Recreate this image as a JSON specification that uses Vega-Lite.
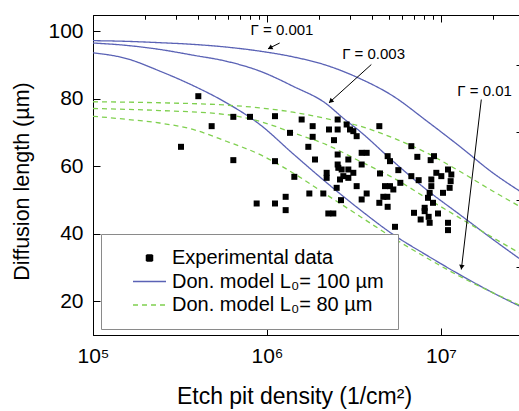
{
  "$schema": "https://vega.github.io/schema/vega-lite/v6.json",
  "width": 427,
  "height": 320,
  "autosize": {"type": "none"},
  "padding": {"left": 93, "top": 15, "right": 0, "bottom": 76},
  "background": "white",
  "config": {
    "view": {"stroke": "black", "strokeWidth": 1},
    "font": "Liberation Sans",
    "axis": {"domainColor": "black", "tickColor": "black", "labelColor": "black", "titleColor": "black", "grid": false, "labelFont": "Liberation Sans", "titleFont": "Liberation Sans", "labelFontSize": 21, "titleFontSize": 21, "titleFontWeight": "normal", "tickWidth": 1, "domainWidth": 1}
  },
  "datasets": {
    "curves": [
      {"curve": "b1", "series": "Don. model L₀= 100 µm", "x": 100000, "y": 97.2},
      {"curve": "b1", "series": "Don. model L₀= 100 µm", "x": 155500, "y": 97.0},
      {"curve": "b1", "series": "Don. model L₀= 100 µm", "x": 241600, "y": 96.6},
      {"curve": "b1", "series": "Don. model L₀= 100 µm", "x": 375500, "y": 96.1},
      {"curve": "b1", "series": "Don. model L₀= 100 µm", "x": 583800, "y": 95.3},
      {"curve": "b1", "series": "Don. model L₀= 100 µm", "x": 907600, "y": 94.1},
      {"curve": "b1", "series": "Don. model L₀= 100 µm", "x": 1410700, "y": 92.4},
      {"curve": "b1", "series": "Don. model L₀= 100 µm", "x": 2193000, "y": 89.9},
      {"curve": "b1", "series": "Don. model L₀= 100 µm", "x": 3408000, "y": 86.0},
      {"curve": "b1", "series": "Don. model L₀= 100 µm", "x": 5298000, "y": 80.8},
      {"curve": "b1", "series": "Don. model L₀= 100 µm", "x": 8236000, "y": 73.5},
      {"curve": "b1", "series": "Don. model L₀= 100 µm", "x": 12800000, "y": 65.9},
      {"curve": "b1", "series": "Don. model L₀= 100 µm", "x": 19900000, "y": 58.0},
      {"curve": "b1", "series": "Don. model L₀= 100 µm", "x": 29000000, "y": 52.3},
      {"curve": "b3", "series": "Don. model L₀= 100 µm", "x": 100000, "y": 96.5},
      {"curve": "b3", "series": "Don. model L₀= 100 µm", "x": 155500, "y": 95.8},
      {"curve": "b3", "series": "Don. model L₀= 100 µm", "x": 241600, "y": 94.6},
      {"curve": "b3", "series": "Don. model L₀= 100 µm", "x": 375500, "y": 92.9},
      {"curve": "b3", "series": "Don. model L₀= 100 µm", "x": 583800, "y": 91.1},
      {"curve": "b3", "series": "Don. model L₀= 100 µm", "x": 907600, "y": 88.2},
      {"curve": "b3", "series": "Don. model L₀= 100 µm", "x": 1410700, "y": 83.7},
      {"curve": "b3", "series": "Don. model L₀= 100 µm", "x": 2193000, "y": 78.5},
      {"curve": "b3", "series": "Don. model L₀= 100 µm", "x": 2734000, "y": 74.3},
      {"curve": "b3", "series": "Don. model L₀= 100 µm", "x": 3408000, "y": 70.4},
      {"curve": "b3", "series": "Don. model L₀= 100 µm", "x": 5298000, "y": 61.5},
      {"curve": "b3", "series": "Don. model L₀= 100 µm", "x": 8236000, "y": 53.1},
      {"curve": "b3", "series": "Don. model L₀= 100 µm", "x": 12800000, "y": 45.7},
      {"curve": "b3", "series": "Don. model L₀= 100 µm", "x": 19900000, "y": 38.3},
      {"curve": "b3", "series": "Don. model L₀= 100 µm", "x": 29000000, "y": 32.2},
      {"curve": "b10", "series": "Don. model L₀= 100 µm", "x": 100000, "y": 93.6},
      {"curve": "b10", "series": "Don. model L₀= 100 µm", "x": 155500, "y": 91.9},
      {"curve": "b10", "series": "Don. model L₀= 100 µm", "x": 241600, "y": 88.2},
      {"curve": "b10", "series": "Don. model L₀= 100 µm", "x": 375500, "y": 83.9},
      {"curve": "b10", "series": "Don. model L₀= 100 µm", "x": 583800, "y": 78.8},
      {"curve": "b10", "series": "Don. model L₀= 100 µm", "x": 907600, "y": 72.4},
      {"curve": "b10", "series": "Don. model L₀= 100 µm", "x": 1410700, "y": 63.7},
      {"curve": "b10", "series": "Don. model L₀= 100 µm", "x": 2193000, "y": 55.2},
      {"curve": "b10", "series": "Don. model L₀= 100 µm", "x": 3408000, "y": 47.2},
      {"curve": "b10", "series": "Don. model L₀= 100 µm", "x": 5298000, "y": 39.8},
      {"curve": "b10", "series": "Don. model L₀= 100 µm", "x": 8236000, "y": 33.7},
      {"curve": "b10", "series": "Don. model L₀= 100 µm", "x": 12800000, "y": 27.9},
      {"curve": "b10", "series": "Don. model L₀= 100 µm", "x": 19900000, "y": 22.5},
      {"curve": "b10", "series": "Don. model L₀= 100 µm", "x": 29000000, "y": 18.3},
      {"curve": "g1", "series": "Don. model L₀= 80 µm", "x": 100000, "y": 79.1},
      {"curve": "g1", "series": "Don. model L₀= 80 µm", "x": 241600, "y": 78.8},
      {"curve": "g1", "series": "Don. model L₀= 80 µm", "x": 583800, "y": 78.1},
      {"curve": "g1", "series": "Don. model L₀= 80 µm", "x": 907600, "y": 77.3},
      {"curve": "g1", "series": "Don. model L₀= 80 µm", "x": 1410700, "y": 76.0},
      {"curve": "g1", "series": "Don. model L₀= 80 µm", "x": 2193000, "y": 74.1},
      {"curve": "g1", "series": "Don. model L₀= 80 µm", "x": 3408000, "y": 71.9},
      {"curve": "g1", "series": "Don. model L₀= 80 µm", "x": 5298000, "y": 68.4},
      {"curve": "g1", "series": "Don. model L₀= 80 µm", "x": 8236000, "y": 64.0},
      {"curve": "g1", "series": "Don. model L₀= 80 µm", "x": 12800000, "y": 58.5},
      {"curve": "g1", "series": "Don. model L₀= 80 µm", "x": 19900000, "y": 52.6},
      {"curve": "g1", "series": "Don. model L₀= 80 µm", "x": 29000000, "y": 47.8},
      {"curve": "g3", "series": "Don. model L₀= 80 µm", "x": 100000, "y": 77.1},
      {"curve": "g3", "series": "Don. model L₀= 80 µm", "x": 241600, "y": 76.5},
      {"curve": "g3", "series": "Don. model L₀= 80 µm", "x": 583800, "y": 75.3},
      {"curve": "g3", "series": "Don. model L₀= 80 µm", "x": 907600, "y": 73.3},
      {"curve": "g3", "series": "Don. model L₀= 80 µm", "x": 1410700, "y": 69.9},
      {"curve": "g3", "series": "Don. model L₀= 80 µm", "x": 2193000, "y": 66.4},
      {"curve": "g3", "series": "Don. model L₀= 80 µm", "x": 3408000, "y": 61.5},
      {"curve": "g3", "series": "Don. model L₀= 80 µm", "x": 5298000, "y": 56.6},
      {"curve": "g3", "series": "Don. model L₀= 80 µm", "x": 8236000, "y": 50.6},
      {"curve": "g3", "series": "Don. model L₀= 80 µm", "x": 12800000, "y": 44.7},
      {"curve": "g3", "series": "Don. model L₀= 80 µm", "x": 19900000, "y": 38.8},
      {"curve": "g3", "series": "Don. model L₀= 80 µm", "x": 29000000, "y": 34.0},
      {"curve": "g10", "series": "Don. model L₀= 80 µm", "x": 100000, "y": 74.8},
      {"curve": "g10", "series": "Don. model L₀= 80 µm", "x": 155500, "y": 73.9},
      {"curve": "g10", "series": "Don. model L₀= 80 µm", "x": 241600, "y": 72.8},
      {"curve": "g10", "series": "Don. model L₀= 80 µm", "x": 375500, "y": 70.9},
      {"curve": "g10", "series": "Don. model L₀= 80 µm", "x": 583800, "y": 67.4},
      {"curve": "g10", "series": "Don. model L₀= 80 µm", "x": 907600, "y": 63.5},
      {"curve": "g10", "series": "Don. model L₀= 80 µm", "x": 1410700, "y": 58.0},
      {"curve": "g10", "series": "Don. model L₀= 80 µm", "x": 2193000, "y": 51.6},
      {"curve": "g10", "series": "Don. model L₀= 80 µm", "x": 3408000, "y": 45.2},
      {"curve": "g10", "series": "Don. model L₀= 80 µm", "x": 5298000, "y": 38.8},
      {"curve": "g10", "series": "Don. model L₀= 80 µm", "x": 8236000, "y": 32.9},
      {"curve": "g10", "series": "Don. model L₀= 80 µm", "x": 12800000, "y": 27.4},
      {"curve": "g10", "series": "Don. model L₀= 80 µm", "x": 19900000, "y": 22.5},
      {"curve": "g10", "series": "Don. model L₀= 80 µm", "x": 29000000, "y": 18.6}
    ],
    "points": [
      {"x": 320400, "y": 65.75}, {"x": 403000, "y": 80.75}, {"x": 480800, "y": 71.87}, {"x": 640500, "y": 74.63},
      {"x": 640500, "y": 61.8}, {"x": 798500, "y": 74.63}, {"x": 872200, "y": 48.96}, {"x": 1111600, "y": 74.83},
      {"x": 1111600, "y": 61.5}, {"x": 1111600, "y": 48.96}, {"x": 1280200, "y": 50.94}, {"x": 1280200, "y": 46.99},
      {"x": 1355700, "y": 69.89}, {"x": 1435800, "y": 56.86}, {"x": 1582100, "y": 73.84}, {"x": 1728000, "y": 65.75},
      {"x": 1751200, "y": 51.92}, {"x": 1830000, "y": 71.87}, {"x": 1830000, "y": 68.71}, {"x": 1887400, "y": 61.99},
      {"x": 2107400, "y": 51.92}, {"x": 2202300, "y": 58.05}, {"x": 2202300, "y": 56.56}, {"x": 2251600, "y": 46.0},
      {"x": 2405600, "y": 46.0}, {"x": 2271500, "y": 70.88}, {"x": 2547600, "y": 70.88}, {"x": 2547600, "y": 73.84},
      {"x": 2426900, "y": 67.72}, {"x": 2547600, "y": 63.47}, {"x": 2547600, "y": 60.51}, {"x": 2570200, "y": 59.53},
      {"x": 2627500, "y": 56.07}, {"x": 2514100, "y": 53.6}, {"x": 2662600, "y": 49.95}, {"x": 2686000, "y": 59.03},
      {"x": 2934000, "y": 59.03}, {"x": 3134500, "y": 58.05}, {"x": 2746000, "y": 57.06}, {"x": 2934000, "y": 56.56},
      {"x": 2869600, "y": 72.36}, {"x": 2999500, "y": 70.88}, {"x": 3134500, "y": 70.39}, {"x": 3275800, "y": 68.9},
      {"x": 4421700, "y": 71.87}, {"x": 3499900, "y": 63.97}, {"x": 3739400, "y": 63.97}, {"x": 2934000, "y": 61.99},
      {"x": 3499900, "y": 60.51}, {"x": 3275800, "y": 54.1}, {"x": 3739400, "y": 51.92}, {"x": 3499900, "y": 50.15},
      {"x": 4461200, "y": 57.85}, {"x": 4937300, "y": 62.98}, {"x": 5092100, "y": 61.5}, {"x": 5685800, "y": 58.84},
      {"x": 5838000, "y": 55.08}, {"x": 4766000, "y": 54.1}, {"x": 5092100, "y": 54.1}, {"x": 5321600, "y": 53.11},
      {"x": 4662000, "y": 50.94}, {"x": 4915500, "y": 50.94}, {"x": 4421700, "y": 49.16}, {"x": 4937300, "y": 47.98},
      {"x": 5440000, "y": 42.05},
      {"x": 6753000, "y": 65.94}, {"x": 7311000, "y": 62.78}, {"x": 8722000, "y": 61.8}, {"x": 9116000, "y": 62.98},
      {"x": 6753000, "y": 57.06}, {"x": 7441400, "y": 55.87}, {"x": 8799000, "y": 56.07}, {"x": 9401000, "y": 58.05},
      {"x": 10044000, "y": 57.06}, {"x": 10970000, "y": 59.03}, {"x": 11466000, "y": 57.55}, {"x": 11364000, "y": 55.58},
      {"x": 11214000, "y": 53.6}, {"x": 8799000, "y": 54.1}, {"x": 8607000, "y": 52.12}, {"x": 8419500, "y": 50.64},
      {"x": 10268000, "y": 52.12}, {"x": 8995000, "y": 49.16}, {"x": 8056300, "y": 47.68}, {"x": 8056300, "y": 46.69},
      {"x": 6995700, "y": 46.2}, {"x": 7640900, "y": 44.22}, {"x": 8494000, "y": 45.01}, {"x": 8607000, "y": 43.24},
      {"x": 9611000, "y": 46.0}, {"x": 10970000, "y": 43.24}, {"x": 10970000, "y": 41.07}
    ],
    "labels": [
      {"text": "Γ = 0.001", "x": 1220000, "y": 100.5},
      {"text": "Γ = 0.003", "x": 4100000, "y": 93.1},
      {"text": "Γ = 0.01", "x": 17820000, "y": 82.2}
    ],
    "arrows": [
      {"x": 1182600, "y": 96.5, "x2": 1013300, "y2": 94.77},
      {"x": 3977000, "y": 90.13, "x2": 2272000, "y2": 78.78},
      {"x": 17050000, "y": 79.76, "x2": 13090000, "y2": 29.42}
    ],
    "heads": [
      {"x": 1049800, "y": 95.16, "angle": 243},
      {"x": 2339000, "y": 79.37, "angle": 228},
      {"x": 13150000, "y": 30.3, "angle": 187}
    ]
  },
  "layer": [
    {
      "data": {"name": "curves"},
      "mark": {"type": "line", "strokeWidth": 1.3, "clip": true, "interpolate": "monotone"},
      "encoding": {
        "x": {"field": "x", "type": "quantitative", "scale": {"type": "log", "domain": [100000, 28450000]},
          "axis": {"values": [100000, 1000000, 10000000], "tickSize": -7, "labelPadding": 17, "labelExpr": "datum.value == 100000 ? '10⁵' : datum.value == 1000000 ? '10⁶' : '10⁷'", "title": "Etch pit density (1/cm²)", "titleFontSize": 23, "titleX": 201, "titlePadding": 19, "labelFlush": false}},
        "y": {"field": "y", "type": "quantitative", "scale": {"domain": [10, 104.8]},
          "axis": {"values": [20, 40, 60, 80, 100], "tickSize": -7, "labelPadding": 17, "title": "Diffusion length (µm)", "titleFontSize": 21.5, "titleY": 166, "titlePadding": 14}},
        "color": {"field": "series", "type": "nominal",
          "scale": {"domain": ["Experimental data", "Don. model L₀= 100 µm", "Don. model L₀= 80 µm"], "range": ["black", "#5a62b5", "#7fd04f"]},
          "legend": {
            "orient": "none", "legendX": 8, "legendY": 219, "title": null,
            "strokeColor": "#8a8a8a", "fillColor": "white", "padding": 14,
            "labelFont": "Liberation Sans", "labelFontSize": 20, "labelColor": "black", "labelLimit": 400,
            "symbolSize": 400, "symbolOffset": 17, "labelOffset": 5, "rowPadding": 3.5, "clipHeight": 20,
            "encode": {"symbols": {"update": {
              "shape": {"signal": "datum.value === 'Experimental data' ? 'square' : 'stroke'"},
              "size": {"signal": "datum.value === 'Experimental data' ? 36 : 1089"},
              "fill": {"signal": "datum.value === 'Experimental data' ? 'black' : 'transparent'"},
              "stroke": {"signal": "datum.value === 'Experimental data' ? 'transparent' : (datum.value === 'Don. model L₀= 80 µm' ? '#7fd04f' : '#5a62b5')"},
              "strokeDash": {"signal": "datum.value === 'Don. model L₀= 80 µm' ? [5, 4] : [1, 0]"},
              "strokeWidth": {"value": 1.5},
              "opacity": {"value": 1}
            }}}
          }},
        "strokeDash": {"field": "series", "type": "nominal",
          "scale": {"domain": ["Experimental data", "Don. model L₀= 100 µm", "Don. model L₀= 80 µm"], "range": [[1, 0], [1, 0], [5, 4]]}, "legend": null},
        "detail": {"field": "curve"}
      }
    },
    {
      "data": {"name": "points"},
      "mark": {"type": "point", "shape": "square", "filled": true, "size": 36, "opacity": 1},
      "encoding": {
        "x": {"field": "x", "type": "quantitative", "scale": {"type": "log", "domain": [100000, 28450000]},
          "axis": {"values": [200000, 300000, 400000, 500000, 600000, 700000, 800000, 900000, 2000000, 3000000, 4000000, 5000000, 6000000, 7000000, 8000000, 9000000, 20000000], "tickSize": -4, "labels": false, "domain": false, "title": null}},
        "y": {"field": "y", "type": "quantitative", "scale": {"domain": [10, 104.8]},
          "axis": {"values": [30, 50, 70, 90], "tickSize": -4, "labels": false, "domain": false, "title": null}},
        "color": {"datum": "Experimental data", "type": "nominal"}
      }
    },
    {
      "data": {"name": "labels"},
      "mark": {"type": "text", "font": "Liberation Sans", "fontSize": 15, "color": "black", "align": "center", "baseline": "middle"},
      "encoding": {
        "x": {"field": "x", "type": "quantitative", "scale": {"type": "log", "domain": [100000, 28450000]},
          "axis": {"orient": "top", "values": [100000, 1000000, 10000000], "tickSize": -7, "labels": false, "domain": false, "title": null}},
        "y": {"field": "y", "type": "quantitative", "scale": {"domain": [10, 104.8]}, "axis": null},
        "text": {"field": "text"}
      }
    },
    {
      "data": {"name": "arrows"},
      "mark": {"type": "rule", "color": "black", "strokeWidth": 1},
      "encoding": {
        "x": {"field": "x", "type": "quantitative", "scale": {"type": "log", "domain": [100000, 28450000]},
          "axis": {"orient": "top", "values": [200000, 300000, 400000, 500000, 600000, 700000, 800000, 900000, 2000000, 3000000, 4000000, 5000000, 6000000, 7000000, 8000000, 9000000, 20000000], "tickSize": -4, "labels": false, "domain": false, "title": null}},
        "y": {"field": "y", "type": "quantitative", "scale": {"domain": [10, 104.8]}, "axis": null},
        "x2": {"field": "x2"},
        "y2": {"field": "y2"}
      }
    },
    {
      "data": {"name": "heads"},
      "mark": {"type": "point", "shape": "triangle", "filled": true, "color": "black", "size": 30, "opacity": 1},
      "encoding": {
        "x": {"field": "x", "type": "quantitative", "scale": {"type": "log", "domain": [100000, 28450000]}, "axis": null},
        "y": {"field": "y", "type": "quantitative", "scale": {"domain": [10, 104.8]}, "axis": null},
        "angle": {"field": "angle", "type": "quantitative", "scale": null}
      }
    }
  ],
  "resolve": {"axis": {"x": "independent", "y": "independent"}}
}
